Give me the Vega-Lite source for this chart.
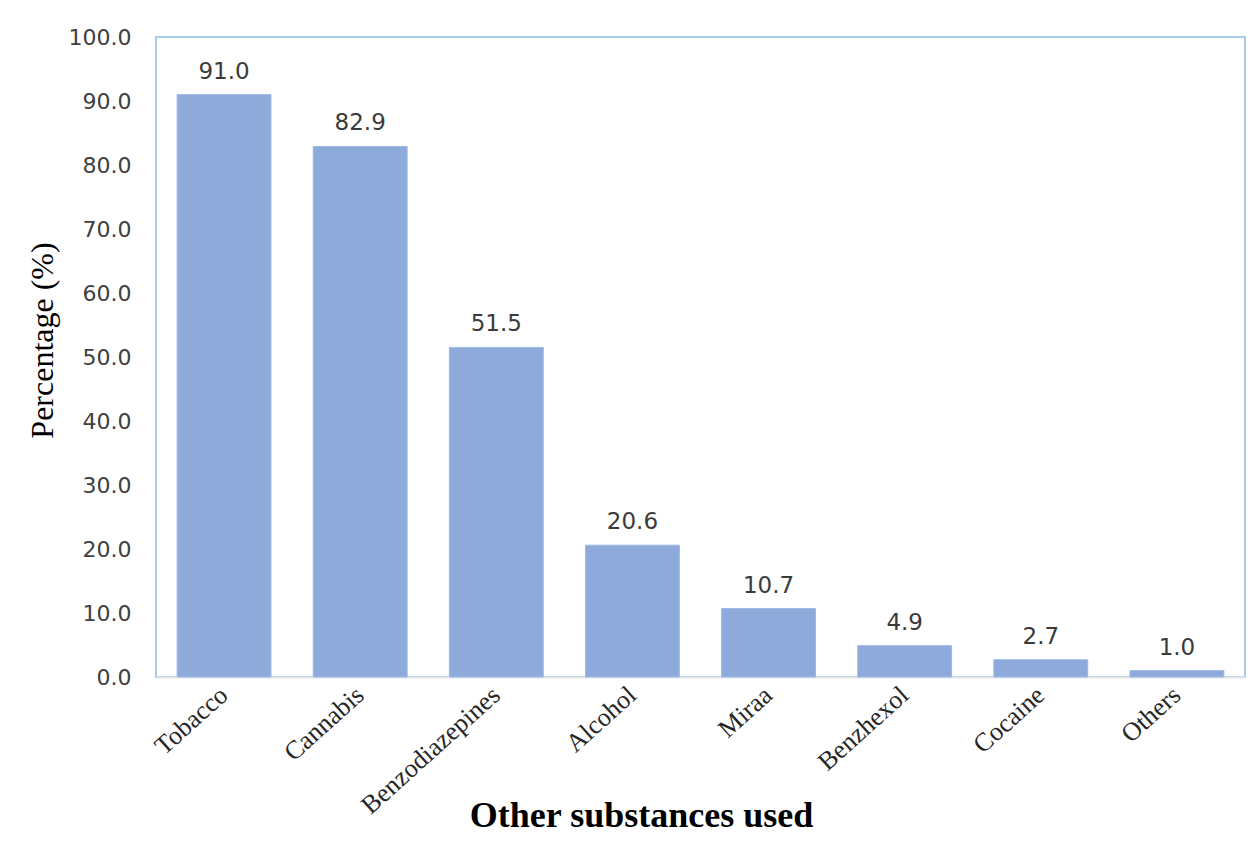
{
  "$schema": "https://vega.github.io/schema/vega-lite/v6.json",
  "autosize": "none",
  "width": 1089,
  "height": 640,
  "padding": {"left": 156, "top": 37, "right": 15, "bottom": 180},
  "background": "white",
  "config": {
    "view": {"stroke": "#A9CBEA", "strokeWidth": 2},
    "axis": {"grid": false}
  },
  "data": {
    "values": [
      {"substance": "Tobacco", "percent": 91.0},
      {"substance": "Cannabis", "percent": 82.9},
      {"substance": "Benzodiazepines", "percent": 51.5},
      {"substance": "Alcohol", "percent": 20.6},
      {"substance": "Miraa", "percent": 10.7},
      {"substance": "Benzhexol", "percent": 4.9},
      {"substance": "Cocaine", "percent": 2.7},
      {"substance": "Others", "percent": 1.0}
    ]
  },
  "encoding": {
    "x": {
      "field": "substance",
      "type": "nominal",
      "sort": null,
      "scale": {"paddingInner": 0.31, "paddingOuter": 0.155},
      "axis": {
        "title": "Other substances used",
        "titleFont": "Liberation Serif",
        "titleFontSize": 36,
        "titleFontWeight": "bold",
        "titleColor": "#000000",
        "titleX": 485,
        "titleY": 138,
        "titleBaseline": "middle",
        "labelFont": "Liberation Serif",
        "labelFontSize": 26,
        "labelColor": "#262626",
        "labelAngle": -42,
        "labelAlign": "right",
        "labelBaseline": "middle",
        "labelPadding": 14,
        "ticks": false,
        "domainColor": "#E3E6EA",
        "domainWidth": 2
      }
    },
    "y": {
      "field": "percent",
      "type": "quantitative",
      "scale": {"domain": [0, 100], "nice": false},
      "axis": {
        "title": "Percentage (%)",
        "titleFont": "Liberation Serif",
        "titleFontSize": 32,
        "titleFontWeight": "normal",
        "titleColor": "#000000",
        "titleAngle": -90,
        "titleX": -114,
        "titleY": 303,
        "titleBaseline": "middle",
        "titleAlign": "center",
        "values": [0, 10, 20, 30, 40, 50, 60, 70, 80, 90, 100],
        "format": ".1f",
        "labelFont": "DejaVu Sans",
        "labelFontSize": 22,
        "labelColor": "#404040",
        "labelPadding": 25,
        "ticks": false,
        "domain": false
      }
    }
  },
  "layer": [
    {
      "mark": {"type": "bar", "color": "#8EAADB", "stroke": "#9DBAE6", "strokeWidth": 1}
    },
    {
      "mark": {"type": "text", "dy": -23, "font": "DejaVu Sans", "fontSize": 23, "color": "#3A3A3A"},
      "encoding": {
        "text": {"field": "percent", "type": "quantitative", "format": ".1f"}
      }
    }
  ]
}
